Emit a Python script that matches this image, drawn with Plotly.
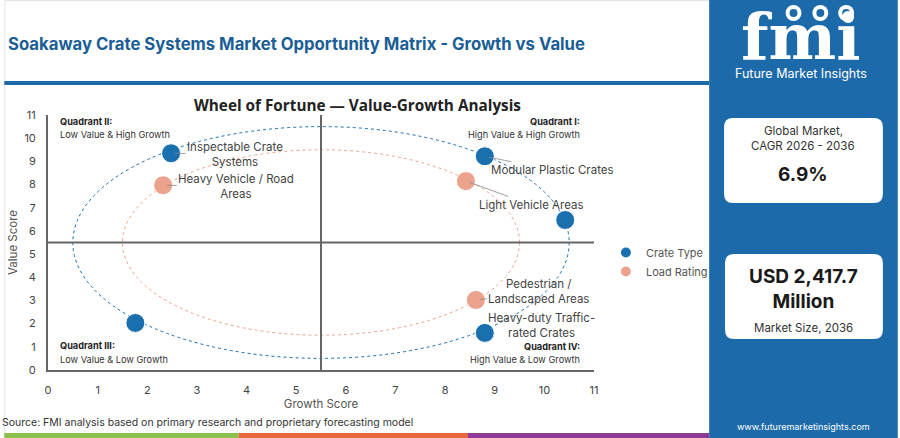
import plotly.graph_objects as go

# ---- data ----
crate_labels = ["Inspectable Crate<br>Systems", "Modular Plastic Crates", "",
                "Heavy-duty Traffic-<br>rated Crates", ""]
crate_growth = [2.48, 8.8, 10.42, 8.8, 1.76]
crate_value = [9.35, 9.22, 6.47, 1.6, 2.03]

load_labels = ["Heavy Vehicle / Road<br>Areas", "Light Vehicle Areas",
               "Pedestrian /<br>Landscaped Areas"]
load_growth = [2.32, 8.42, 8.62]
load_value = [7.97, 8.15, 3.02]

ring_center = 5.5
ring_radii = [5.0, 4.0]   # crate type ring, load rating ring

axis_ticks = list(range(0, 12))

cagr_text = "6.9%"
market_text = "USD 2,417.7<br>Million"

BLUE = "#1a6faf"
SALMON = "#eba38d"
PANEL = "#1d6aaa"
FONT = "Inter"

# pixel -> paper helpers (plot area is 44..594 x 115..370)
def fx(p):
    return (p - 44) / 550.0

def fy(p):
    return (370 - p) / 255.0

fig = go.Figure()

fig.add_trace(go.Scatter(x=crate_growth, y=crate_value, mode="markers", name="Crate Type",
                         marker=dict(size=19, color=BLUE, line=dict(color="white", width=1))))
fig.add_trace(go.Scatter(x=load_growth, y=load_value, mode="markers", name="Load Rating",
                         marker=dict(size=19, color=SALMON, line=dict(color="white", width=1))))

shapes = []
# rings
for r, col in zip(ring_radii, [BLUE, SALMON]):
    shapes.append(dict(type="circle", xref="x", yref="y", x0=ring_center - r, x1=ring_center + r,
                       y0=ring_center - r, y1=ring_center + r, layer="below",
                       line=dict(color=col, width=1, dash="dot")))
# quadrant lines
shapes.append(dict(type="line", xref="x", yref="y", x0=ring_center, x1=ring_center, y0=0, y1=11,
                   line=dict(color="#666666", width=2)))
shapes.append(dict(type="line", xref="x", yref="y", x0=0, x1=11, y0=ring_center, y1=ring_center,
                   line=dict(color="#666666", width=2)))

# page decorations
shapes.append(dict(type="rect", xref="paper", yref="paper", x0=fx(0.5), x1=fx(712), y0=fy(437), y1=fy(0.5),
                   line=dict(color="#e4e4e4", width=1), layer="below"))
shapes.append(dict(type="rect", xref="paper", yref="paper", x0=fx(0), x1=fx(710), y0=fy(81), y1=fy(85),
                   fillcolor="#1c6aa6", line_width=0))
shapes.append(dict(type="rect", xref="paper", yref="paper", x0=fx(0), x1=fx(236), y0=fy(438), y1=fy(433),
                   fillcolor="#8cc152", line_width=0))
shapes.append(dict(type="rect", xref="paper", yref="paper", x0=fx(236), x1=fx(467), y0=fy(438), y1=fy(433),
                   fillcolor="#e8663c", line_width=0))
shapes.append(dict(type="rect", xref="paper", yref="paper", x0=fx(467), x1=fx(710), y0=fy(438), y1=fy(433),
                   fillcolor="#8e3a96", line_width=0))
shapes.append(dict(type="rect", xref="paper", yref="paper", x0=fx(710), x1=fx(900), y0=fy(438), y1=fy(0),
                   fillcolor=PANEL, line_width=0))


def rounded(x0, y0, x1, y1, r):
    pts = (f"M {fx(x0 + r)} {fy(y0)} L {fx(x1 - r)} {fy(y0)} Q {fx(x1)} {fy(y0)} {fx(x1)} {fy(y0 + r)} "
           f"L {fx(x1)} {fy(y1 - r)} Q {fx(x1)} {fy(y1)} {fx(x1 - r)} {fy(y1)} "
           f"L {fx(x0 + r)} {fy(y1)} Q {fx(x0)} {fy(y1)} {fx(x0)} {fy(y1 - r)} "
           f"L {fx(x0)} {fy(y0 + r)} Q {fx(x0)} {fy(y0)} {fx(x0 + r)} {fy(y0)} Z")
    return dict(type="path", xref="paper", yref="paper", path=pts, fillcolor="white", line_width=0)


shapes.append(rounded(725, 118, 885, 203, 9))
shapes.append(rounded(726, 254, 885, 339, 9))

# logo globes
for cx in [795, 822, 848]:
    shapes.append(dict(type="circle", xref="paper", yref="paper", x0=fx(cx - 8), x1=fx(cx + 8),
                       y0=fy(21), y1=fy(5), fillcolor="white", line_width=0))
    shapes.append(dict(type="circle", xref="paper", yref="paper", x0=fx(cx - 4), x1=fx(cx + 4),
                       y0=fy(17), y1=fy(9), fillcolor=PANEL, line_width=0))

annotations = []


def note(text, x, y, size, color="#333333", bold=False, xanchor="center", family=FONT):
    if bold:
        text = f"<b>{text}</b>"
    annotations.append(dict(text=text, x=fx(x), y=fy(y), xref="paper", yref="paper", showarrow=False,
                            xanchor=xanchor, yanchor="middle", font=dict(size=size, color=color, family=family)))


note("Soakaway Crate Systems Market Opportunity Matrix - Growth vs Value", 2, 44, 16.7,
     color="#1a5e95", bold=True, xanchor="left")
note("Wheel of Fortune — Value-Growth Analysis", 356, 105, 15.3, color="#222222", bold=True,
     family="Open Sans")
note("Source: FMI analysis based on primary research and proprietary forecasting model", -4, 422, 10.5,
     color="#333333", xanchor="left")

note("Quadrant II:", 54, 121, 9.2, color="#222222", bold=True, xanchor="left")
note("Low Value & High Growth", 54, 134, 9.2, xanchor="left")
note("Quadrant I:", 582, 121, 9.2, color="#222222", bold=True, xanchor="right")
note("High Value & High Growth", 582, 134, 9.2, xanchor="right")
note("Quadrant III:", 54, 345, 9.2, color="#222222", bold=True, xanchor="left")
note("Low Value & Low Growth", 54, 359, 9.2, xanchor="left")
note("Quadrant IV:", 582, 346, 9.2, color="#222222", bold=True, xanchor="right")
note("High Value & Low Growth", 582, 359, 9.2, xanchor="right")

# right panel text
note("fmi", 803, 36, 64, color="white", bold=True, family="DejaVu Serif")
note("Future Market Insights", 803, 74, 12.5, color="white")
note("Global Market,", 805, 131, 11.5, color="#333333")
note("CAGR 2026 - 2036", 805, 146, 11.5, color="#333333")
note(cagr_text, 805, 174, 19, color="#1a1a1a", bold=True)
note(market_text, 805, 289, 19, color="#1a1a1a", bold=True)
note("Market Size, 2036", 805, 328, 11.5, color="#333333")
note("www.futuremarketinsights.com", 805, 426, 9, color="white")

# point labels (pixel offsets from each point)
crate_offsets = [(64, 1), (68, 14), (0, 0), (57, -7), (0, 0)]
load_offsets = [(73, 1), (66, 24), (63, -8)]
for labels, xs, ys, offs in [(crate_labels, crate_growth, crate_value, crate_offsets),
                             (load_labels, load_growth, load_value, load_offsets)]:
    for lab, gx, vy, (dx, dy) in zip(labels, xs, ys, offs):
        if not lab:
            continue
        annotations.append(dict(text=lab, x=gx, y=vy, xref="x", yref="y", ax=dx, ay=dy,
                                showarrow=True, arrowhead=0, arrowwidth=0.8, arrowcolor="#888888",
                                standoff=4, font=dict(size=11.5, color="#444444", family=FONT)))

fig.update_layout(
    width=900, height=438,
    margin=dict(l=44, r=306, t=115, b=68),
    paper_bgcolor="white", plot_bgcolor="white",
    font=dict(family=FONT, color="#444444"),
    shapes=shapes, annotations=annotations,
    showlegend=True,
    legend=dict(x=fx(606), y=fy(262), xanchor="left", yanchor="middle", itemsizing="constant",
                font=dict(size=11, color="#555555"), bgcolor="rgba(0,0,0,0)", tracegroupgap=4),
    xaxis=dict(range=[0, 11], tickvals=axis_ticks, showgrid=False, zeroline=False, showline=True,
               linecolor="#666666", linewidth=2, ticklabelstandoff=9,
               tickfont=dict(size=11, color="#444444"),
               title=dict(text="Growth Score", font=dict(size=11.5, color="#555555"), standoff=3)),
    yaxis=dict(range=[0, 11], tickvals=axis_ticks, showgrid=False, zeroline=False, showline=True,
               linecolor="#666666", linewidth=2, ticklabelstandoff=8,
               tickfont=dict(size=11, color="#444444"),
               title=dict(text="Value Score", font=dict(size=11.5, color="#555555"), standoff=4)),
)

fig.write_html("out.html", config={"displayModeBar": False},
               post_script="document.body.style.margin='0';document.body.style.overflow='hidden';")
